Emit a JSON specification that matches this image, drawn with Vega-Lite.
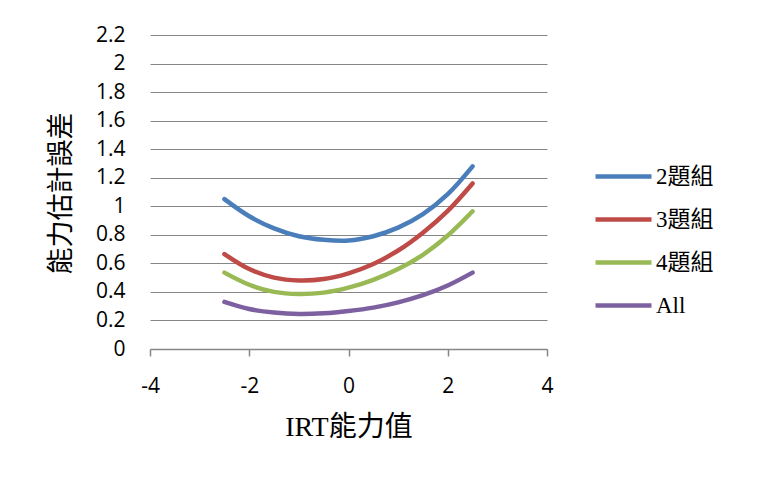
{
  "$schema": "https://vega.github.io/schema/vega-lite/v6.json",
  "width": 397,
  "height": 314,
  "autosize": {"type": "none"},
  "padding": {"left": 150, "top": 35, "right": 211, "bottom": 130},
  "background": "white",
  "config": {
    "view": {"stroke": null},
    "font": "Open Sans"
  },
  "datasets": {
    "curves": [
      {"theta": -2.5, "se": 1.05, "group": "2題組"},
      {"theta": -2.0, "se": 0.93, "group": "2題組"},
      {"theta": -1.5, "se": 0.845, "group": "2題組"},
      {"theta": -1.0, "se": 0.79, "group": "2題組"},
      {"theta": -0.5, "se": 0.765, "group": "2題組"},
      {"theta": 0.0, "se": 0.76, "group": "2題組"},
      {"theta": 0.5, "se": 0.79, "group": "2題組"},
      {"theta": 1.0, "se": 0.85, "group": "2題組"},
      {"theta": 1.5, "se": 0.945, "group": "2題組"},
      {"theta": 2.0, "se": 1.085, "group": "2題組"},
      {"theta": 2.5, "se": 1.28, "group": "2題組"},
      {"theta": -2.5, "se": 0.665, "group": "3題組"},
      {"theta": -2.0, "se": 0.56, "group": "3題組"},
      {"theta": -1.5, "se": 0.5, "group": "3題組"},
      {"theta": -1.0, "se": 0.48, "group": "3題組"},
      {"theta": -0.5, "se": 0.49, "group": "3題組"},
      {"theta": 0.0, "se": 0.53, "group": "3題組"},
      {"theta": 0.5, "se": 0.595, "group": "3題組"},
      {"theta": 1.0, "se": 0.69, "group": "3題組"},
      {"theta": 1.5, "se": 0.815, "group": "3題組"},
      {"theta": 2.0, "se": 0.968, "group": "3題組"},
      {"theta": 2.5, "se": 1.16, "group": "3題組"},
      {"theta": -2.5, "se": 0.535, "group": "4題組"},
      {"theta": -2.0, "se": 0.45, "group": "4題組"},
      {"theta": -1.5, "se": 0.4, "group": "4題組"},
      {"theta": -1.0, "se": 0.385, "group": "4題組"},
      {"theta": -0.5, "se": 0.395, "group": "4題組"},
      {"theta": 0.0, "se": 0.43, "group": "4題組"},
      {"theta": 0.5, "se": 0.485, "group": "4題組"},
      {"theta": 1.0, "se": 0.56, "group": "4題組"},
      {"theta": 1.5, "se": 0.66, "group": "4題組"},
      {"theta": 2.0, "se": 0.795, "group": "4題組"},
      {"theta": 2.5, "se": 0.965, "group": "4題組"},
      {"theta": -2.5, "se": 0.33, "group": "All"},
      {"theta": -2.0, "se": 0.28, "group": "All"},
      {"theta": -1.5, "se": 0.255, "group": "All"},
      {"theta": -1.0, "se": 0.245, "group": "All"},
      {"theta": -0.5, "se": 0.25, "group": "All"},
      {"theta": 0.0, "se": 0.266, "group": "All"},
      {"theta": 0.5, "se": 0.29, "group": "All"},
      {"theta": 1.0, "se": 0.327, "group": "All"},
      {"theta": 1.5, "se": 0.377, "group": "All"},
      {"theta": 2.0, "se": 0.445, "group": "All"},
      {"theta": 2.5, "se": 0.535, "group": "All"}
    ]
  },
  "layer": [
    {
      "mark": {"type": "rule", "color": "#868686", "strokeWidth": 1.5},
      "encoding": {
        "x": {"datum": 0, "type": "quantitative"}
      }
    },
    {
      "data": {"name": "curves"},
      "mark": {"type": "line", "interpolate": "catmull-rom", "strokeWidth": 4.5, "strokeCap": "round"},
      "encoding": {
        "x": {
          "field": "theta",
          "type": "quantitative",
          "scale": {"domain": [-4, 4], "nice": false, "zero": false},
          "axis": {
            "title": "IRT能力值",
            "values": [-4, -2, 0, 2, 4],
            "labelExpr": "'' + datum.value",
            "grid": false,
            "domainColor": "#868686",
            "domainWidth": 1.5,
            "tickColor": "#868686",
            "tickWidth": 1.5,
            "tickSize": 7,
            "labelPadding": 19,
            "labelFont": "Open Sans",
            "labelFontSize": 21,
            "labelColor": "black",
            "labelFlush": false,
            "titleFont": "Liberation Serif, Noto Sans CJK TC",
            "titleFontSize": 28,
            "titleFontWeight": "normal",
            "titleColor": "black",
            "titleY": 78,
            "titleBaseline": "middle"
          }
        },
        "y": {
          "field": "se",
          "type": "quantitative",
          "scale": {"domain": [0, 2.2], "nice": false},
          "axis": {
            "title": "能力估計誤差",
            "values": [0, 0.2, 0.4, 0.6, 0.8, 1, 1.2, 1.4, 1.6, 1.8, 2, 2.2],
            "labelExpr": "'' + datum.value",
            "domain": false,
            "ticks": false,
            "tickSize": 0,
            "grid": true,
            "gridColor": "#868686",
            "gridWidth": 1,
            "labelPadding": 25,
            "labelFont": "Open Sans",
            "labelFontSize": 21,
            "labelColor": "black",
            "labelFlush": false,
            "titleFont": "Noto Sans CJK TC",
            "titleFontSize": 27,
            "titleFontWeight": "normal",
            "titleColor": "black",
            "titleX": -89,
            "titleY": 158,
            "titleBaseline": "middle",
            "titleAngle": -90
          }
        },
        "color": {
          "field": "group",
          "type": "nominal",
          "scale": {
            "domain": ["2題組", "3題組", "4題組", "All"],
            "range": ["#4A7EBB", "#BE4B48", "#98B954", "#7D60A0"]
          },
          "legend": {
            "title": null,
            "orient": "none",
            "legendX": 443,
            "legendY": 111,
            "padding": 0,
            "symbolType": "stroke",
            "symbolSize": 3136,
            "symbolStrokeWidth": 4.5,
            "rowPadding": -8,
            "labelOffset": 2,
            "labelFont": "Liberation Serif, Noto Sans CJK TC",
            "labelFontSize": 23,
            "labelColor": "black"
          }
        }
      }
    }
  ]
}
